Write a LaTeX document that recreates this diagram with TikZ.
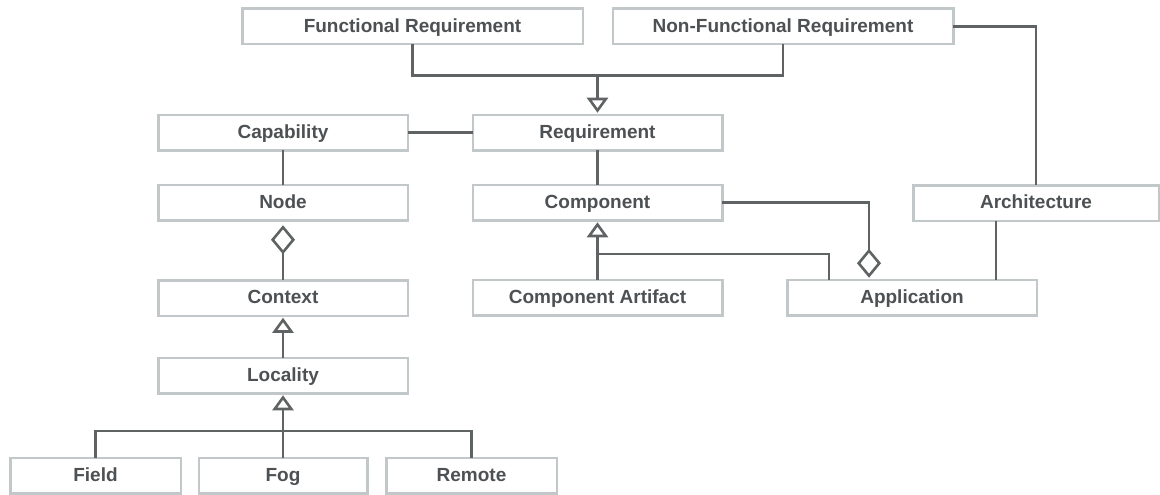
\documentclass[tikz,border=0pt]{standalone}
\usepackage{fontspec}
\setmainfont{Liberation Sans}
\usetikzlibrary{arrows.meta}
\definecolor{boxline}{HTML}{C2C7C9}
\definecolor{wire}{HTML}{5F6364}
\definecolor{label}{HTML}{4D5153}
\tikzset{
  cls/.style={draw=boxline, line width=2.5pt, fill=white, inner sep=0pt, outer sep=0pt,
    minimum width=249.5pt, minimum height=35.5pt, text=label,
    text height=13.6pt, text depth=1.8pt,
    font=\fontsize{19}{22}\selectfont\bfseries},
  wideclass/.style={cls, minimum width=340.5pt},
  leafclass/.style={cls, minimum width=170.5pt},
  conn/.style={draw=wire, line width=2.6pt},
  gen/.style={conn, -{Triangle[open, length=15pt, width=21pt]}, shorten >=2pt},
  agg/.style={conn, {Diamond[open, length=29pt, width=24pt]}-}
}
\begin{document}
\begin{tikzpicture}[x=1pt, y=-1pt]
\useasboundingbox (0,0) rectangle (1160,495);

% classes
\node[wideclass] (fr)   at (412.5, 26.5) {Functional Requirement};
\node[wideclass] (nfr)  at (783, 26.5)   {Non-Functional Requirement};
\node[cls] (cap)  at (283, 132.5)  {Capability};
\node[cls] (req)  at (597.5, 132.5) {Requirement};
\node[cls] (nd)   at (283, 202.5)  {Node};
\node[cls] (com)  at (597.5, 202.5) {Component};
\node[cls, minimum width=245.5pt] (arch) at (1036, 203) {Architecture};
\node[cls] (ctx)  at (283, 298)    {Context};
\node[cls] (art)  at (597.5, 297.5) {Component Artifact};
\node[cls] (app)  at (912, 297.5)  {Application};
\node[cls] (loc)  at (283, 375.5)  {Locality};
\node[leafclass] (field)  at (95.5, 475.5)  {Field};
\node[leafclass, minimum width=168.5pt] (fog) at (283, 475.5) {Fog};
\node[leafclass] (remote) at (471.5, 475.5) {Remote};

% junction points of the shared generalisation bars
\coordinate (reqbar) at (597.5, 75.5);
\coordinate (combar) at (597.5, 254);
\coordinate (locbar) at (283, 431);

% requirement hierarchy
\draw[conn] (fr.south) |- (reqbar) -| (nfr.south);
\draw[gen] (reqbar) -- (req.north);
\draw[conn] (cap.east) -- (req.west);
\draw[conn] (req.south) -- (com.north);

% node / context / locality
\draw[conn] (cap.south) -- (nd.north);
\draw[agg, shorten <=5pt] (nd.south) -- (ctx.north);
\draw[gen] (loc.north) -- (ctx.south);
\draw[gen] (fog.north) -- (loc.south);
\draw[conn] (field.north) |- (locbar) -| (remote.north);

% components and application
\draw[gen] (art.north) -- (com.south);
\draw[conn] ([xshift=-83pt]app.north) |- (combar);
\draw[conn, -{Diamond[open, length=29pt, width=24pt]}, shorten >=2pt]
  (com.east) -| ([xshift=-43pt]app.north);

% architecture
\draw[conn] (nfr.east) -| (arch.north);
\draw[conn] ([xshift=-40pt]arch.south) -- ([xshift=84pt]app.north);
\end{tikzpicture}
\end{document}
